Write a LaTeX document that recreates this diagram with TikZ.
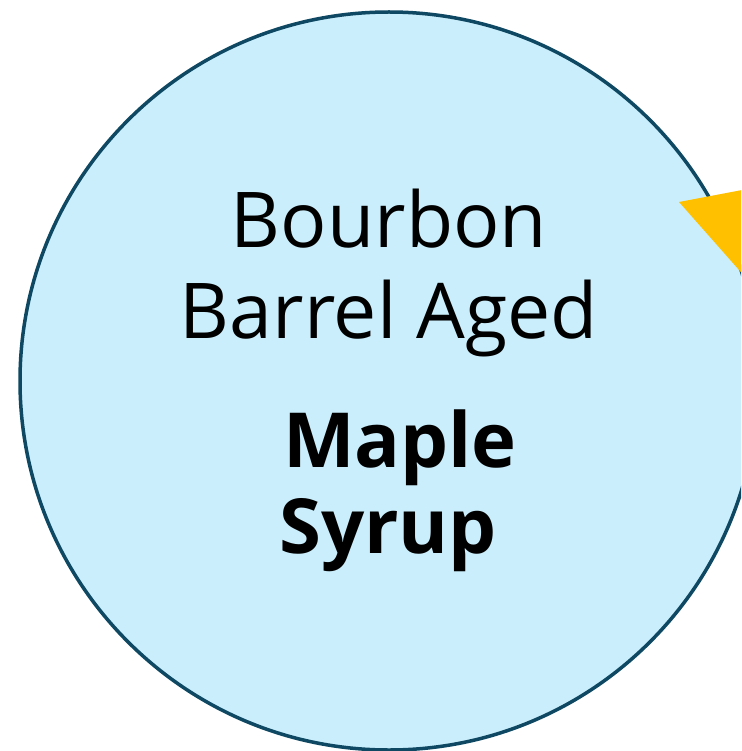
\documentclass[tikz,border=0pt]{standalone}
\usepackage{fontspec}
\setmainfont{Open Sans}
\definecolor{circfill}{HTML}{CAEEFB}
\definecolor{circline}{HTML}{0E4862}
\definecolor{gold}{HTML}{FFC000}
\begin{document}
\begin{tikzpicture}[x=1pt,y=-1pt,
  lbl/.style={anchor=base,inner sep=0pt,font=\fontsize{77}{90}\selectfont},
  boldlbl/.style={anchor=base,inner sep=0pt,font=\fontsize{76}{90}\selectfont\bfseries}]
\path[use as bounding box] (0,0) rectangle (741,751);
\clip (0,0) rectangle (741,751);
\fill[white] (0,0) rectangle (741,751);
\node[circle,draw=circline,fill=circfill,line width=3.5pt,minimum size=738pt,inner sep=0pt] (c) at (389,381) {};
\fill[gold] (679,202) -- (800,179) -- (800,339) -- cycle;
\node[lbl] (l1) at (389,247) {Bourbon};
\node[lbl] (l2) at (389,338) {Barrel Aged};
\node[boldlbl] (l3) at (400,467) {Maple};
\node[boldlbl] (l4) at (388,553) {Syrup};
\end{tikzpicture}
\end{document}
